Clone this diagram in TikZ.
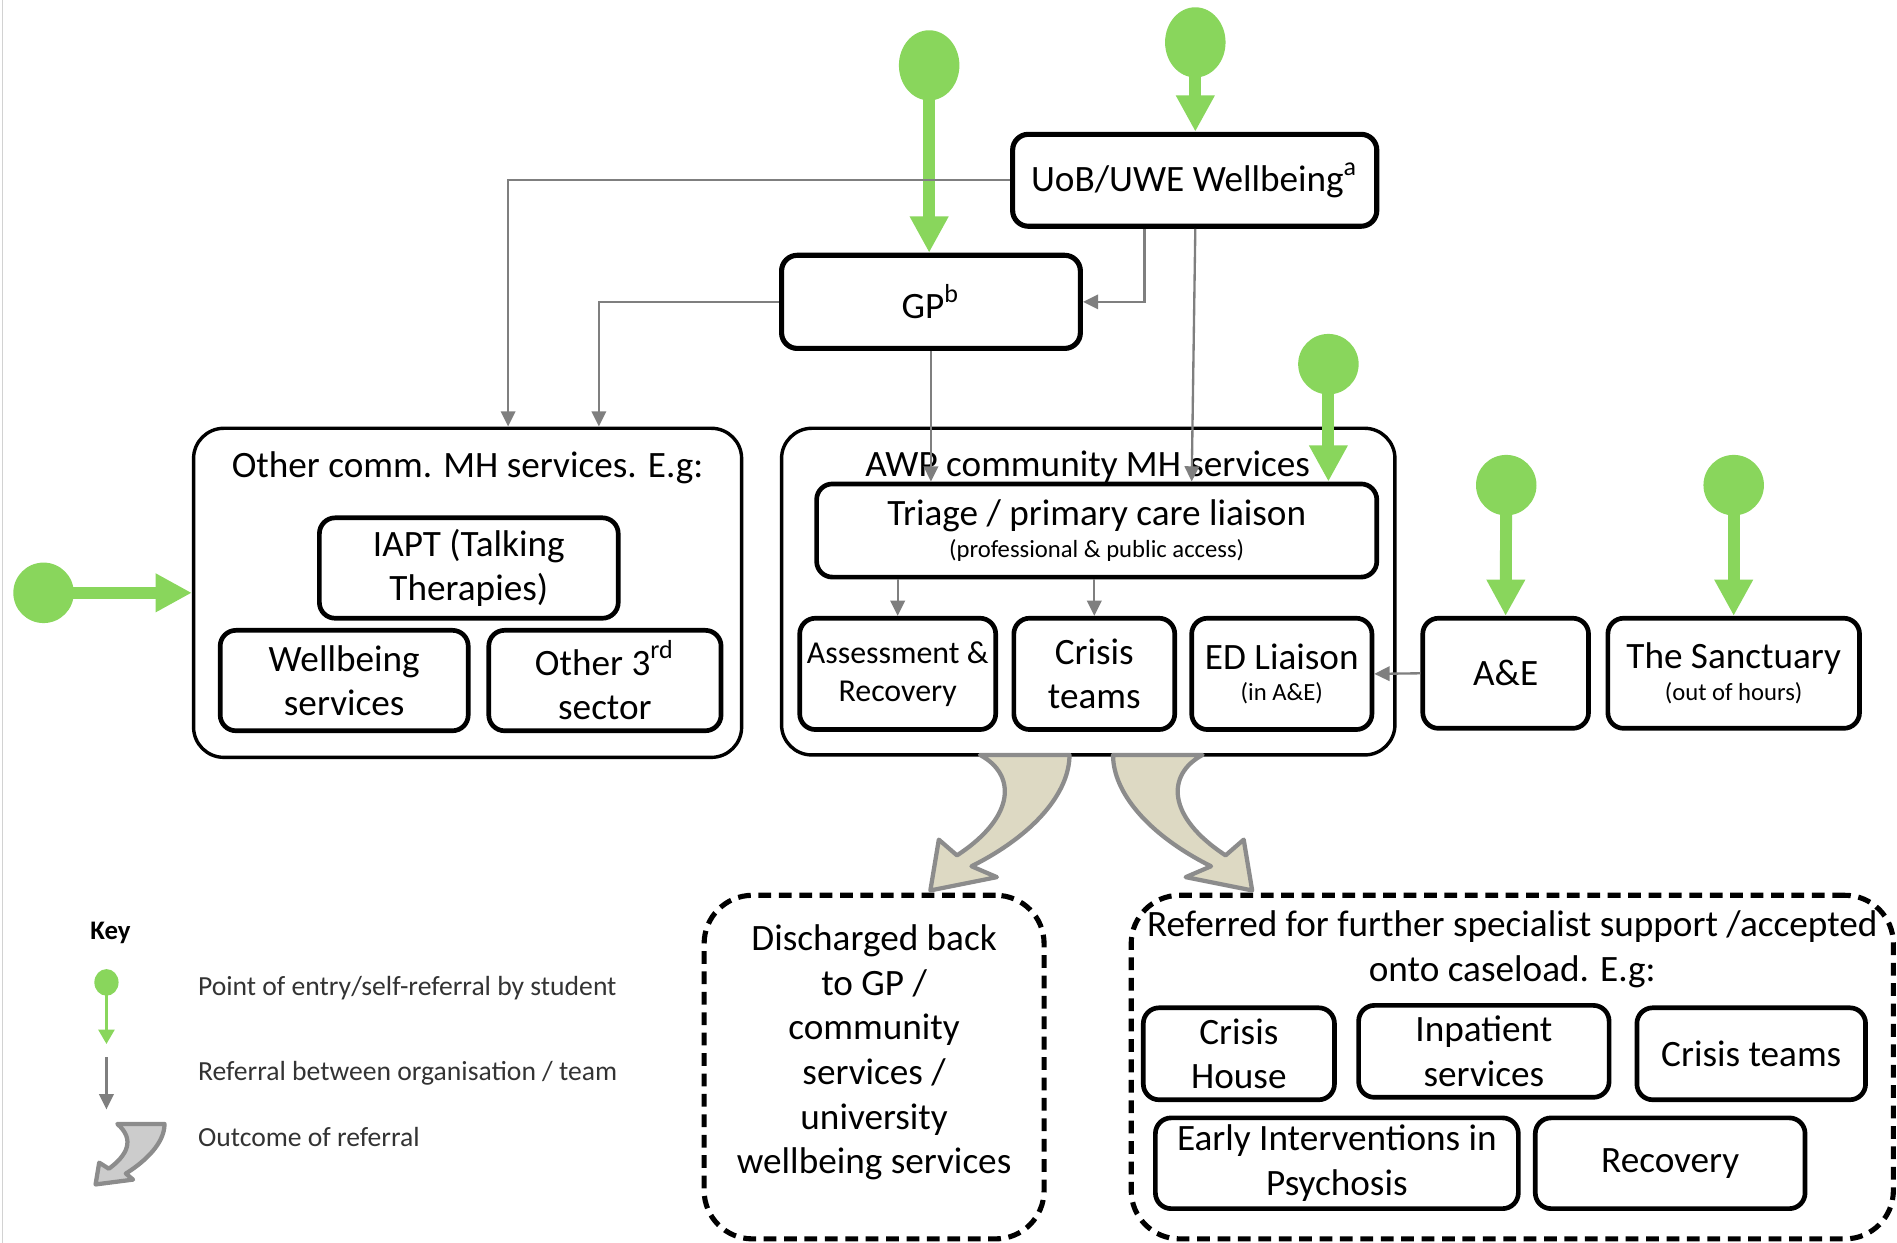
\documentclass[tikz,border=0pt]{standalone}
\usepackage{fontspec}
\setmainfont{Carlito}
\usetikzlibrary{arrows.meta, shapes.geometric}

\definecolor{entrygreen}{RGB}{137,214,92}
\definecolor{refgray}{RGB}{127,127,127}
\definecolor{outcomefill}{RGB}{221,217,195}
\definecolor{outcomeline}{RGB}{140,140,140}
\newcommand{\subtxt}[1]{{\fontsize{5.8}{7}\selectfont #1}}

\begin{document}
\begin{tikzpicture}[>=Stealth,
    every node/.style={font=\fontsize{8.75}{10.5}\selectfont, align=center, inner sep=0pt},
    svc/.style={draw, line width=1.1pt, rounded corners=0.13cm},
    groupbox/.style={draw, line width=0.8pt, rounded corners=0.25cm},
    outbox/.style={draw, line width=1.2pt, dash pattern=on 3pt off 1.8pt, rounded corners=0.4cm},
    entry/.style={circle, fill=entrygreen, minimum size=0.5cm},
    entryarrow/.style={draw=entrygreen, line width=2.8pt, -{Triangle[width=0.3cm,length=0.3cm]}},
    refer/.style={draw=refgray, line width=0.55pt, -{Triangle[width=3.4pt,length=3.6pt]}},
    outcome/.style={fill=outcomefill, draw=outcomeline, line width=1pt, line join=round},
    keytxt/.style={anchor=west, font=\fontsize{6.5}{7.8}\selectfont, text=black!80}]

    \useasboundingbox (0,0) rectangle (15.68,-10.27);
    \draw[gray!35] (0.02,0) -- (0.02,-10.27);

    % university and GP
    \node[svc, line width=1.2pt, minimum width=3.01cm, minimum height=0.76cm] (uob) at (9.875,-1.49) {UoB/UWE Wellbeing\textsuperscript{a}};
    \node[svc, line width=1.2pt, minimum width=2.47cm, minimum height=0.77cm] (gp) at (7.695,-2.495) {GP\textsuperscript{b}};

    % other community services
    \node[groupbox, minimum width=4.53cm, minimum height=2.72cm] (other) at (3.865,-4.90) {};
    \node (othertitle) at (3.865,-3.87) {Other comm. MH services. E.g:};
    \node[svc, minimum width=2.47cm, minimum height=0.83cm] (iapt) at (3.875,-4.695) {IAPT (Talking\\Therapies)};
    \node[svc, minimum width=2.05cm, minimum height=0.83cm] (wellb) at (2.845,-5.625) {Wellbeing\\services};
    \node[svc, minimum width=1.92cm, minimum height=0.83cm] (third) at (5.00,-5.625) {Other 3\textsuperscript{rd}\\sector};

    % AWP services
    \node[groupbox, minimum width=5.07cm, minimum height=2.70cm] (awp) at (8.995,-4.89) {};
    \node (awptitle) at (8.99,-3.86) {AWP community MH services};
    \node[svc, minimum width=4.63cm, minimum height=0.77cm] (triage) at (9.065,-4.385) {Triage / primary care liaison\\[-3pt]\subtxt{(professional \& public access)}};
    \node[svc, minimum width=1.62cm, minimum height=0.92cm, font=\fontsize{7.5}{9}\selectfont] (assess) at (7.42,-5.57) {Assessment \&\\Recovery};
    \node[svc, minimum width=1.33cm, minimum height=0.92cm] (crisis) at (9.045,-5.57) {Crisis\\teams};
    \node[svc, minimum width=1.49cm, minimum height=0.92cm] (edl) at (10.595,-5.57) {ED Liaison\\[-3pt]\subtxt{(in A\&E)}};
    \node[svc, minimum width=1.37cm, minimum height=0.91cm] (ae) at (12.445,-5.565) {A\&E};
    \node[svc, minimum width=2.08cm, minimum height=0.91cm] (sanct) at (14.33,-5.565) {The Sanctuary\\[-3pt]\subtxt{(out of hours)}};

    % outcomes
    \node[outbox, minimum width=2.81cm, minimum height=2.84cm] (disch) at (7.225,-8.82) {};
    \node (dischtxt) at (7.225,-8.70) {Discharged back\\to GP /\\community\\services /\\university\\wellbeing services};
    \node[outbox, minimum width=6.30cm, minimum height=2.84cm] (refd) at (12.50,-8.82) {};
    \node (refdtitle) at (12.50,-7.845) {Referred for further specialist support /accepted\\onto caseload. E.g:};
    \node[svc, minimum width=1.58cm, minimum height=0.76cm] (chouse) at (10.24,-8.71) {Crisis\\House};
    \node[svc, minimum width=2.07cm, minimum height=0.76cm] (inpat) at (12.265,-8.69) {Inpatient\\services};
    \node[svc, minimum width=1.89cm, minimum height=0.76cm] (cteams) at (14.475,-8.71) {Crisis teams};
    \node[svc, minimum width=3.00cm, minimum height=0.75cm] (eip) at (11.05,-9.615) {Early Interventions in\\Psychosis};
    \node[svc, minimum width=2.23cm, minimum height=0.75cm] (recov) at (13.805,-9.615) {Recovery};

    % points of entry
    \node[entry, ellipse, minimum width=0.5cm, minimum height=0.58cm] (egp) at (7.68,-0.54) {};
    \node[entry, ellipse, minimum width=0.5cm, minimum height=0.58cm] (euob) at (9.88,-0.35) {};
    \node[entry] (etri) at (10.98,-3.01) {};
    \node[entry] (eae) at (12.45,-4.01) {};
    \node[entry] (esan) at (14.33,-4.01) {};
    \node[entry] (eoth) at (0.36,-4.90) {};
    \draw[entryarrow] (egp.center) -- (egp |- gp.north);
    \draw[entryarrow] (euob.center) -- (euob |- uob.north);
    \draw[entryarrow] (etri.center) -- (etri |- triage.north);
    \draw[entryarrow] (eae.center) -- (ae.north);
    \draw[entryarrow] (esan.center) -- (sanct.north);
    \draw[entryarrow] (eoth.center) -- (other.west);

    % referrals
    \draw[refer] (uob.west) -| ([xshift=3.35mm]other.north);
    \draw[refer] (gp.west) -| ([xshift=10.85mm]other.north);
    \draw[refer] ([xshift=-4.15mm]uob.south) |- (gp.east);
    \draw[refer] ([xshift=0.05mm]uob.south) -- ([xshift=7.85mm]triage.north);
    \draw[refer] (gp.south) -- (gp.south |- triage.north);
    \draw[refer] (assess.north |- triage.south) -- (assess.north);
    \draw[refer] (crisis.north |- triage.south) -- (crisis.north);
    \draw[refer] (ae.west) -- (edl.east);

    % outcome arrows
    \draw[outcome] (8.10,-6.24) .. controls (8.40,-6.40) and (8.40,-6.75) .. (7.91,-7.07)
        -- (7.76,-6.94) -- (7.69,-7.36) -- (8.24,-7.25) -- (8.03,-7.16)
        .. controls (8.55,-6.90) and (8.84,-6.55) .. (8.84,-6.24) -- cycle;
    \draw[outcome] (9.94,-6.24) .. controls (9.64,-6.40) and (9.64,-6.75) .. (10.13,-7.07)
        -- (10.28,-6.94) -- (10.35,-7.36) -- (9.80,-7.25) -- (10.01,-7.16)
        .. controls (9.49,-6.90) and (9.20,-6.55) .. (9.20,-6.24) -- cycle;

    % key
    \node[anchor=west, font=\bfseries\fontsize{6.3}{7.5}\selectfont] (keytitle) at (0.74,-7.71) {Key};
    \node[entry, ellipse, minimum width=0.2cm, minimum height=0.22cm] (keydot) at (0.88,-8.12) {};
    \coordinate (keydotend) at (0.88,-8.63);
    \draw[draw=entrygreen, line width=0.8pt, -{Triangle[width=0.13cm,length=0.12cm]}] (keydot.center) -- (keydotend);
    \coordinate (keyreftop) at (0.88,-8.74);
    \coordinate (keyrefend) at (0.88,-9.17);
    \draw[refer] (keyreftop) -- (keyrefend);
    \draw[outcome, fill=gray!40] (0.97,-9.29) -- (1.36,-9.29) .. controls (1.36,-9.45) and (1.20,-9.60) .. (1.04,-9.70)
        -- (1.10,-9.75) -- (0.79,-9.79) -- (0.82,-9.61) -- (0.90,-9.66)
        .. controls (1.05,-9.55) and (1.12,-9.42) .. (0.97,-9.29) -- cycle;
    \node[keytxt] (keyentry) at (1.63,-8.17) {Point of entry/self-referral by student};
    \node[keytxt] (keyrefer) at (1.63,-8.87) {Referral between organisation / team};
    \node[keytxt] (keyout) at (1.63,-9.40) {Outcome of referral};
\end{tikzpicture}
\end{document}
